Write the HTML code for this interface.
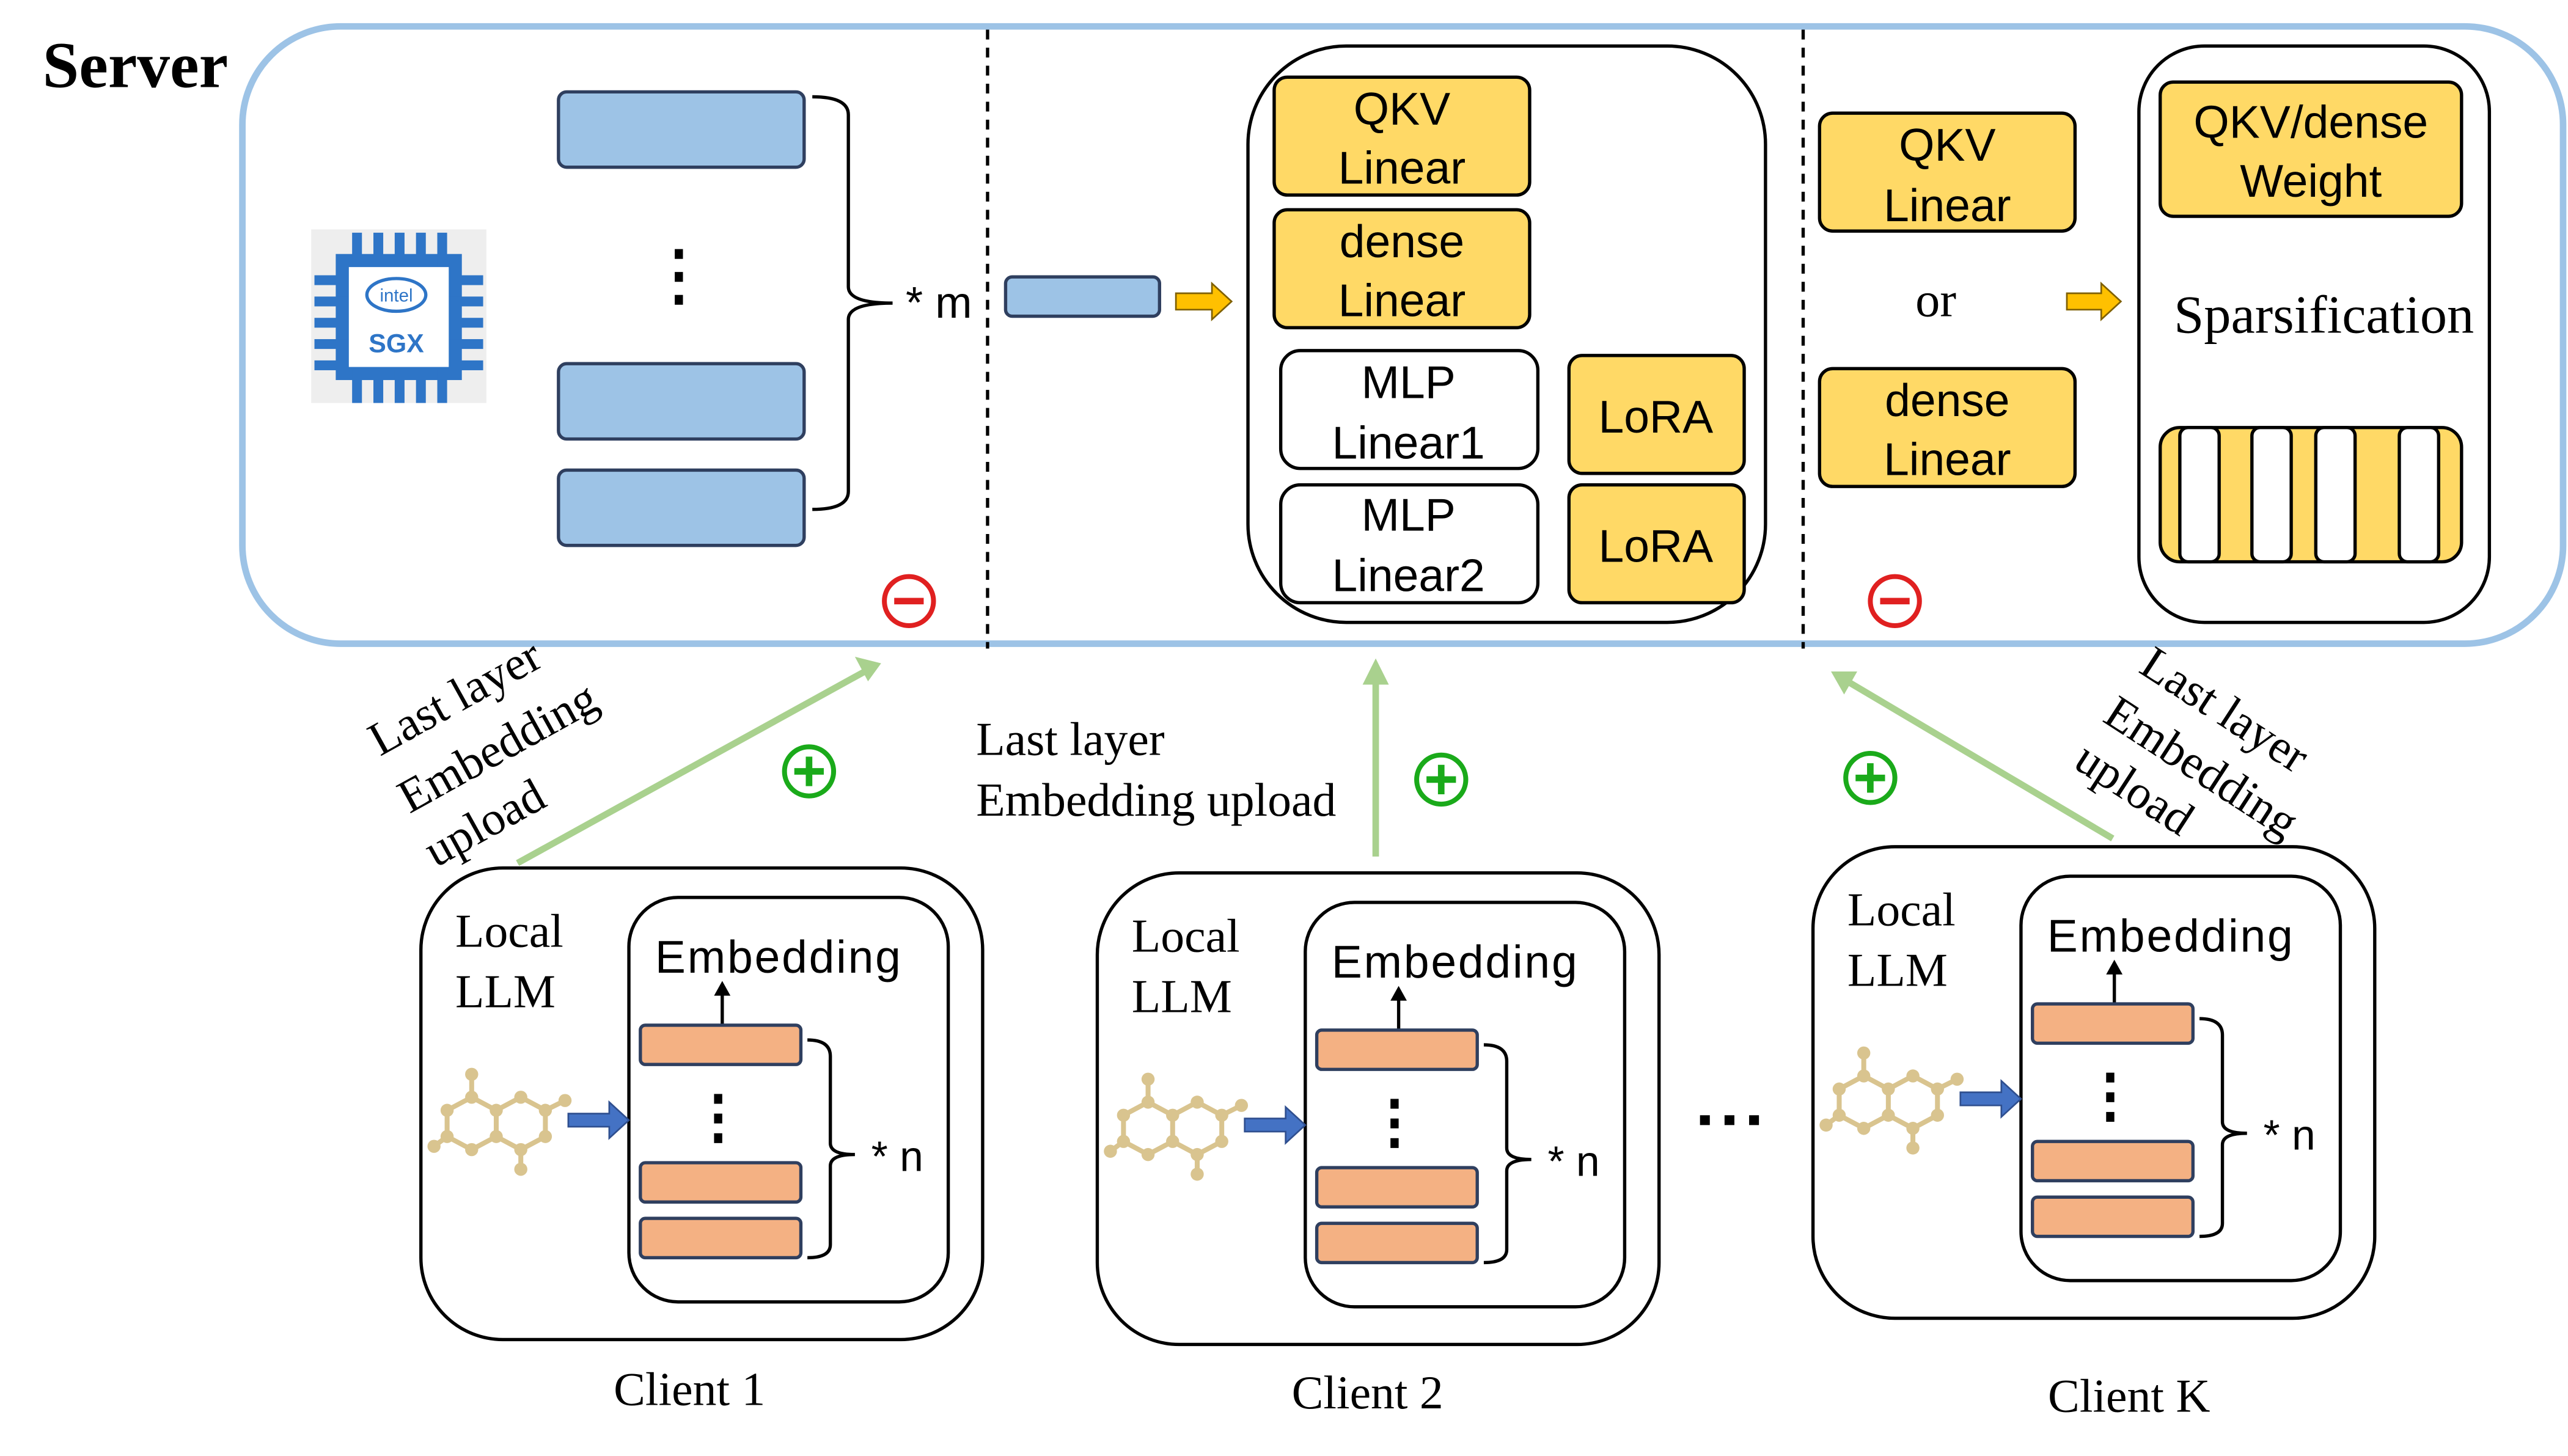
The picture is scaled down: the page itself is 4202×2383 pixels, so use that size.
<!DOCTYPE html>
<html><head><meta charset="utf-8"><style>html,body{margin:0;padding:0;background:#fff}svg{display:block}</style></head>
<body>
<svg xmlns="http://www.w3.org/2000/svg" width="4202" height="2383" viewBox="0 0 1568 889">
<defs>
<g id="mol" fill="none" stroke="#d9c48f" stroke-width="3">
 <path d="M10,30 L25,22 L40,30 L40,46 L25,54 L10,46 Z M25,22 L25,8 M40,30 L55,22 L70,30 L70,46 L55,54 L40,46 M55,54 L55,66 M10,46 L2,52 M70,30 L82,24"/>
 <g fill="#d9c48f" stroke="none">
  <circle cx="10" cy="30" r="4"/><circle cx="25" cy="22" r="4"/><circle cx="40" cy="30" r="4"/><circle cx="40" cy="46" r="4"/><circle cx="25" cy="54" r="4"/><circle cx="10" cy="46" r="4"/><circle cx="25" cy="8" r="4"/><circle cx="55" cy="22" r="4"/><circle cx="70" cy="30" r="4"/><circle cx="70" cy="46" r="4"/><circle cx="55" cy="54" r="4"/><circle cx="55" cy="66" r="4"/><circle cx="2" cy="52" r="4"/><circle cx="82" cy="24" r="4"/>
 </g>
</g>
<g id="client">
 <rect x="0" y="0" width="343" height="288" rx="50" fill="#fff" stroke="#000" stroke-width="2"/>
 <text x="21" y="48" font-family="Liberation Serif,serif" font-size="29">Local</text>
 <text x="21" y="85" font-family="Liberation Serif,serif" font-size="29">LLM</text>
 <rect x="127" y="18" width="195" height="247" rx="30" fill="#fff" stroke="#000" stroke-width="2"/>
 <text x="218" y="64" text-anchor="middle" font-family="Liberation Sans,sans-serif" font-size="28" textLength="150">Embedding</text>
 <line x1="184" y1="96" x2="184" y2="76" stroke="#000" stroke-width="2"/>
 <path d="M179,78 L184,69 L189,78 Z" fill="#000"/>
 <rect x="134" y="96" width="98" height="24" rx="3" fill="#f4b183" stroke="#2f3f5f" stroke-width="2"/>
 <rect x="134" y="180" width="98" height="24" rx="3" fill="#f4b183" stroke="#2f3f5f" stroke-width="2"/>
 <rect x="134" y="214" width="98" height="24" rx="3" fill="#f4b183" stroke="#2f3f5f" stroke-width="2"/>
 <g fill="#000"><rect x="179" y="138" width="5" height="6"/><rect x="179" y="150" width="5" height="6"/><rect x="179" y="162" width="5" height="6"/></g>
 <path d="M236,105 Q250,105 250,115 L250,168 Q250,175 265,175 Q250,175 250,182 L250,230 Q250,238 236,238" fill="none" stroke="#000" stroke-width="2"/>
 <text x="275" y="185" font-family="Liberation Sans,sans-serif" font-size="26">* n</text>
 <use href="#mol" x="6" y="118"/>
 <path d="M90,150 L115,150 L115,143 L127,154 L115,165 L115,158 L90,158 Z" fill="#4472c4" stroke="#2f4f8f" stroke-width="1"/>
</g>
</defs>

<text x="26" y="53" font-family="Liberation Serif,serif" font-size="40" font-weight="bold">Server</text>
<rect x="148" y="16" width="1417" height="377" rx="60" fill="none" stroke="#9dc3e6" stroke-width="4"/>

<rect x="190" y="140" width="107" height="106" fill="#eeeeee"/>
<g fill="#2e75c7">
 <rect x="205" y="155" width="77" height="77"/>
 <rect x="215" y="142" width="6" height="104"/><rect x="228" y="142" width="6" height="104"/><rect x="241" y="142" width="6" height="104"/><rect x="254" y="142" width="6" height="104"/><rect x="267" y="142" width="6" height="104"/>
 <rect x="192" y="168" width="103" height="6"/><rect x="192" y="181" width="103" height="6"/><rect x="192" y="194" width="103" height="6"/><rect x="192" y="207" width="103" height="6"/><rect x="192" y="220" width="103" height="6"/>
</g>
<rect x="213" y="163" width="61" height="61" fill="#fff"/>
<ellipse cx="242" cy="180" rx="18" ry="10" fill="none" stroke="#2e75c7" stroke-width="2"/>
<text x="242" y="184" text-anchor="middle" font-family="Liberation Sans,sans-serif" font-size="11" fill="#2e75c7">intel</text>
<text x="242" y="215" text-anchor="middle" font-family="Liberation Sans,sans-serif" font-size="16" font-weight="bold" fill="#2e75c7">SGX</text>

<g fill="#9dc3e6" stroke="#2f3f5f" stroke-width="2">
 <rect x="341" y="56" width="150" height="46" rx="5"/>
 <rect x="341" y="222" width="150" height="46" rx="5"/>
 <rect x="341" y="287" width="150" height="46" rx="5"/>
 <rect x="614" y="169" width="94" height="24" rx="4"/>
</g>
<g fill="#000"><rect x="412" y="152" width="5" height="6"/><rect x="412" y="166" width="5" height="6"/><rect x="412" y="180" width="5" height="6"/></g>
<path d="M496,59 Q518,59 518,70 L518,175 Q518,185 545,185 Q518,185 518,195 L518,300 Q518,311 496,311" fill="none" stroke="#000" stroke-width="2"/>
<text x="553" y="194" font-family="Liberation Sans,sans-serif" font-size="27">* m</text>

<line x1="603" y1="18" x2="603" y2="396" stroke="#000" stroke-width="2" stroke-dasharray="6,5"/>
<line x1="1101" y1="18" x2="1101" y2="396" stroke="#000" stroke-width="2" stroke-dasharray="6,5"/>

<path d="M718,179 L740,179 L740,173 L752,184 L740,195 L740,189 L718,189 Z" fill="#ffc000" stroke="#7f6000" stroke-width="1"/>
<path d="M1262,179 L1283,179 L1283,173 L1295,184 L1283,195 L1283,189 L1262,189 Z" fill="#ffc000" stroke="#7f6000" stroke-width="1"/>

<rect x="762" y="28" width="316" height="352" rx="60" fill="none" stroke="#000" stroke-width="2"/>
<rect x="1306" y="28" width="214" height="352" rx="40" fill="none" stroke="#000" stroke-width="2"/>
<g stroke="#000" stroke-width="2">
 <rect x="778" y="47" width="156" height="72" rx="8" fill="#ffd966"/>
 <rect x="778" y="128" width="156" height="72" rx="8" fill="#ffd966"/>
 <rect x="782" y="214" width="157" height="72" rx="12" fill="#fff"/>
 <rect x="782" y="296" width="157" height="72" rx="12" fill="#fff"/>
 <rect x="958" y="217" width="107" height="72" rx="8" fill="#ffd966"/>
 <rect x="958" y="296" width="107" height="72" rx="8" fill="#ffd966"/>
 <rect x="1111" y="69" width="156" height="72" rx="8" fill="#ffd966"/>
 <rect x="1111" y="225" width="156" height="72" rx="8" fill="#ffd966"/>
 <rect x="1319" y="50" width="184" height="82" rx="8" fill="#ffd966"/>
</g>
<g font-family="Liberation Sans,sans-serif" font-size="28" text-anchor="middle">
 <text x="856" y="76">QKV</text><text x="856" y="112">Linear</text>
 <text x="856" y="157">dense</text><text x="856" y="193">Linear</text>
 <text x="860" y="243">MLP</text><text x="860" y="280">Linear1</text>
 <text x="860" y="324">MLP</text><text x="860" y="361">Linear2</text>
 <text x="1011" y="264">LoRA</text><text x="1011" y="343">LoRA</text>
 <text x="1189" y="98">QKV</text><text x="1189" y="135">Linear</text>
 <text x="1189" y="254">dense</text><text x="1189" y="290">Linear</text>
 <text x="1411" y="84">QKV/dense</text><text x="1411" y="120">Weight</text>
</g>
<text x="1182" y="193" text-anchor="middle" font-family="Liberation Serif,serif" font-size="30">or</text>

<text x="1419" y="203" text-anchor="middle" font-family="Liberation Serif,serif" font-size="33">Sparsification</text>
<rect x="1319" y="261" width="184" height="82" rx="12" fill="#ffd966" stroke="#000" stroke-width="2"/>
<g fill="#fff" stroke="#000" stroke-width="2">
 <rect x="1331" y="261" width="24" height="82" rx="5"/>
 <rect x="1375" y="261" width="24" height="82" rx="5"/>
 <rect x="1414" y="261" width="24" height="82" rx="5"/>
 <rect x="1465" y="261" width="24" height="82" rx="5"/>
</g>

<g stroke="#e02020" stroke-width="3" fill="#fff">
 <circle cx="555" cy="367" r="15"/><circle cx="1157" cy="367" r="15"/>
</g>
<g stroke="#e02020" stroke-width="4"><line x1="546" y1="367" x2="564" y2="367"/><line x1="1148" y1="367" x2="1166" y2="367"/></g>

<g stroke="#a9d18e" stroke-width="4" fill="none">
 <line x1="316" y1="527" x2="528" y2="410"/>
 <line x1="840" y1="523" x2="840" y2="415"/>
 <line x1="1290" y1="512" x2="1128" y2="416"/>
</g>
<g fill="#a9d18e">
 <path d="M538,405 L522,401 L530,416 Z"/>
 <path d="M840,402 L832,418 L848,418 Z"/>
 <path d="M1118,410 L1126,424 L1134,410 Z"/>
</g>
<g stroke="#1aaa1a" stroke-width="3" fill="#fff">
 <circle cx="494" cy="471" r="15"/><circle cx="880" cy="476" r="15"/><circle cx="1142" cy="475" r="15"/>
</g>
<g stroke="#1aaa1a" stroke-width="4">
 <line x1="485" y1="471" x2="503" y2="471"/><line x1="494" y1="462" x2="494" y2="480"/>
 <line x1="871" y1="476" x2="889" y2="476"/><line x1="880" y1="467" x2="880" y2="485"/>
 <line x1="1133" y1="475" x2="1151" y2="475"/><line x1="1142" y1="466" x2="1142" y2="484"/>
</g>

<g font-family="Liberation Serif,serif" font-size="29">
 <text transform="translate(232,462) rotate(-29)">Last layer</text>
 <text transform="translate(250,497) rotate(-29)">Embedding</text>
 <text transform="translate(266,530) rotate(-29)">upload</text>
 <text x="596" y="461">Last layer</text>
 <text x="596" y="498">Embedding upload</text>
 <text transform="translate(1305,410) rotate(33)">Last layer</text>
 <text transform="translate(1283,440) rotate(33)">Embedding</text>
 <text transform="translate(1265,468) rotate(33)">upload</text>
</g>

<use href="#client" x="257" y="530"/>
<use href="#client" x="670" y="533"/>
<use href="#client" x="1107" y="517"/>

<g fill="#000"><rect x="1038" y="681" width="6" height="6"/><rect x="1053" y="681" width="6" height="6"/><rect x="1068" y="681" width="6" height="6"/></g>

<g font-family="Liberation Serif,serif" font-size="29" text-anchor="middle">
 <text x="421" y="858">Client 1</text>
 <text x="835" y="860">Client 2</text>
 <text x="1300" y="862">Client K</text>
</g>
</svg>
</body></html>
